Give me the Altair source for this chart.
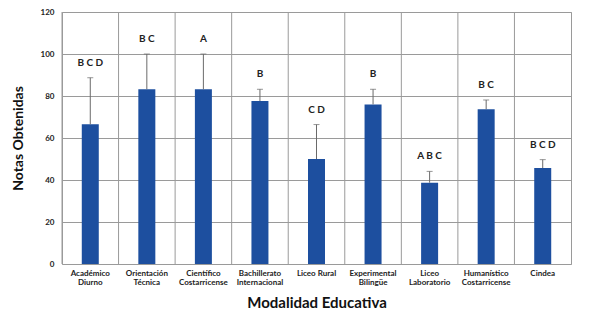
import altair as alt
import pandas as pd

categories = ["Académico|Diurno", "Orientación|Técnica", "Científico|Costarricense",
              "Bachillerato|Internacional", "Liceo Rural", "Experimental|Bilingüe",
              "Liceo|Laboratorio", "Humanístico|Costarricense", "Cindea"]
means = [66.5, 83.2, 83.2, 77.6, 50.0, 76.0, 38.7, 73.7, 45.7]
upper = [88.7, 100.0, 100.0, 83.2, 66.4, 83.2, 44.1, 78.1, 49.7]
letters = ["B C D", "B C", "A", "B", "C D", "B", "A B C", "B C", "B C D"]

df = pd.DataFrame({"cat": categories, "mean": means, "upper": upper, "letters": letters})

FONT = "Lato"
GRID = "#9a9a9a"

x = alt.X("cat:N", sort=categories,
          scale=alt.Scale(paddingInner=0, paddingOuter=0),
          axis=alt.Axis(title="Modalidad Educativa", labelAngle=0,
                        labelExpr="split(datum.label, '|')",
                        labelFont=FONT, labelFontWeight="bold", labelFontSize=8,
                        labelColor="#222", labelPadding=5, labelLineHeight=9,
                        ticks=False, domain=False, grid=False,
                        titleFont=FONT, titleFontSize=15, titleFontWeight="bold",
                        titleColor="#111", titlePadding=9))

y = alt.Y("mean:Q", scale=alt.Scale(domain=[0, 120]),
          axis=alt.Axis(title="Notas Obtenidas", values=[0, 20, 40, 60, 80, 100, 120],
                        labelFont=FONT, labelFontWeight="bold", labelFontSize=8,
                        labelColor="#222", labelPadding=8, ticks=False,
                        domain=False, grid=True, gridColor=GRID, gridWidth=1,
                        titleFont=FONT, titleFontSize=14, titleFontWeight="bold",
                        titleColor="#111", titlePadding=15))

base = alt.Chart(df)

vgrid = base.mark_rule(color=GRID, strokeWidth=1).encode(
    x=alt.X("cat:N", sort=categories, bandPosition=0))

bars = base.mark_bar(size=17, color="#1d4f9f").encode(x=x, y=y)

err = base.mark_rule(color="#6a6a6a", strokeWidth=1).encode(
    x=alt.X("cat:N", sort=categories), y=alt.Y("mean:Q"), y2="upper:Q")

cap = base.mark_tick(orient="horizontal", size=6, thickness=1, color="#6a6a6a").encode(
    x=alt.X("cat:N", sort=categories), y=alt.Y("upper:Q"))

txt = base.mark_text(dy=-12, baseline="alphabetic", font=FONT, fontWeight="bold",
                     fontSize=10, color="#222").encode(
    x=alt.X("cat:N", sort=categories), y=alt.Y("upper:Q"), text="letters:N")

chart = (bars + vgrid + err + cap + txt).properties(
    width=509, height=252,
    autosize=alt.AutoSizeParams(type="none"),
    padding={"left": 54, "top": 4, "right": 10, "bottom": 46},
).configure_view(stroke=GRID, strokeWidth=1)

chart.save("out.html", embed_options={"renderer": "svg", "actions": False})
